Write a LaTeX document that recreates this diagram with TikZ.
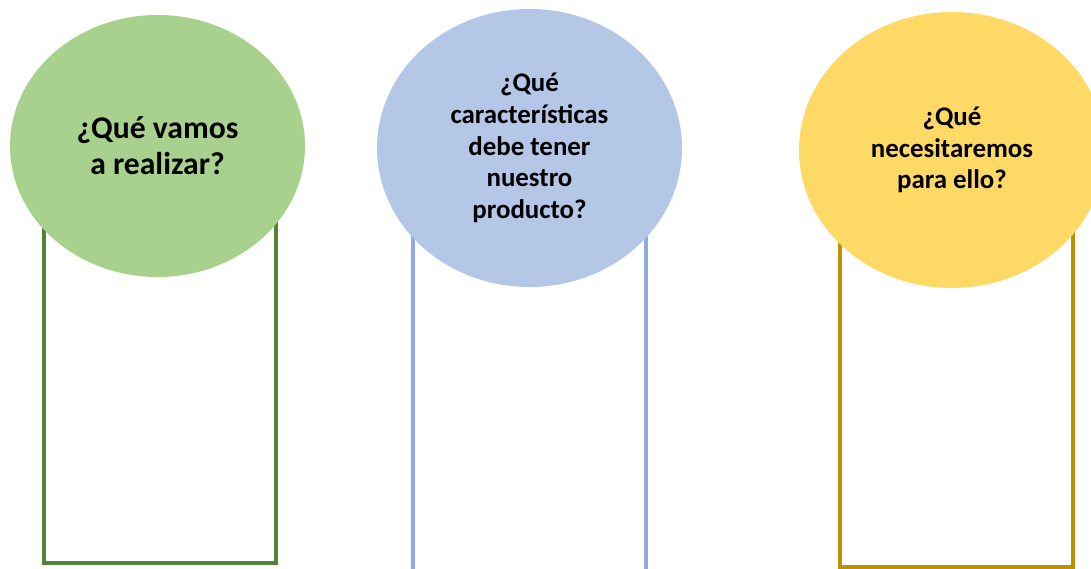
\documentclass[tikz,border=0pt]{standalone}
\usepackage{fontspec}
\setmainfont{Carlito}
\usepackage{tikz}
\usetikzlibrary{shapes.geometric}
\definecolor{verdeRelleno}{HTML}{A9D18E}
\definecolor{verdeBorde}{HTML}{548235}
\definecolor{azulRelleno}{HTML}{B4C7E7}
\definecolor{azulBorde}{HTML}{8FAADC}
\definecolor{amarilloRelleno}{HTML}{FFD966}
\definecolor{amarilloBorde}{HTML}{BF9000}

\begin{document}
\begin{tikzpicture}[x=1cm,y=1cm,
  pregunta/.style={ellipse,inner sep=0pt,align=center,font=\bfseries},
  caja/.style={line width=1.8pt}]

\useasboundingbox (0,0) rectangle (21.82,11.38);

% ==================== Columna 1: verde ====================
\begin{scope}
  % Caja
  \draw[caja,verdeBorde] (0.88,0.12) rectangle (5.52,7.4);
  % Pregunta
  \node[pregunta,fill=verdeRelleno,minimum width=5.9cm,minimum height=5.24cm,
        font=\bfseries\fontsize{18}{20.5}\selectfont]
    (realizar) at (3.15,8.46) {¿Qué vamos\\a realizar?};
\end{scope}

% ==================== Columna 2: azul ====================
\begin{scope}
  % Caja
  \draw[caja,azulBorde] (8.26,-0.3) rectangle (12.92,7.4);
  % Pregunta
  \node[pregunta,fill=azulRelleno,minimum width=6.1cm,minimum height=5.56cm,
        font=\bfseries\fontsize{15.3}{18}\selectfont]
    (caracteristicas) at (10.59,8.42)
    {¿Qué\\características\\debe tener\\nuestro\\producto?};
\end{scope}

% ==================== Columna 3: amarillo ====================
\begin{scope}
  % Caja
  \draw[caja,amarilloBorde] (16.8,0.04) rectangle (21.46,7.4);
  % Pregunta
  \node[pregunta,fill=amarilloRelleno,minimum width=6.12cm,minimum height=5.52cm,
        font=\bfseries\fontsize{15.3}{18}\selectfont]
    (necesitar) at (19.04,8.38) {¿Qué\\necesitaremos\\para ello?};
\end{scope}

\end{tikzpicture}
\end{document}
